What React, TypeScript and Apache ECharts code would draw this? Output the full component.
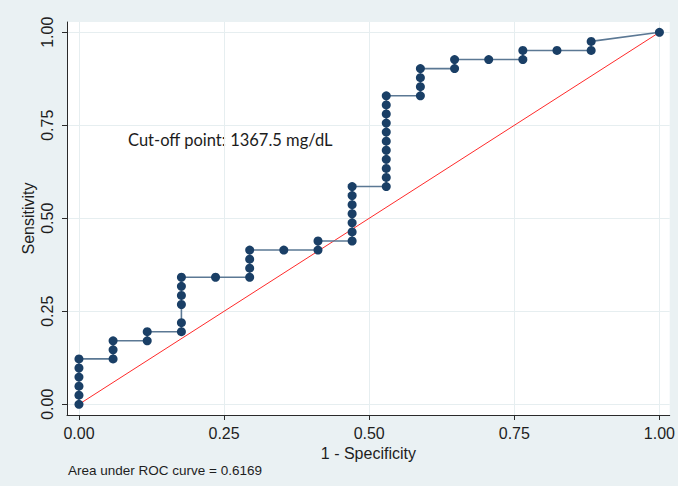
import React, { useEffect, useRef } from "react";
import * as echarts from "echarts";

// 1 - Specificity (x) and Sensitivity (y) of each ROC point, in drawing order
const fpr = [
  0, 0, 0, 0, 0, 0,
  0.0588, 0.0588, 0.0588,
  0.1176, 0.1176,
  0.1765, 0.1765, 0.1765, 0.1765, 0.1765, 0.1765,
  0.2353,
  0.2941, 0.2941, 0.2941, 0.2941,
  0.3529,
  0.4118, 0.4118,
  0.4706, 0.4706, 0.4706, 0.4706, 0.4706, 0.4706, 0.4706,
  0.5294, 0.5294, 0.5294, 0.5294, 0.5294, 0.5294, 0.5294, 0.5294, 0.5294, 0.5294, 0.5294,
  0.5882, 0.5882, 0.5882, 0.5882,
  0.6471, 0.6471,
  0.7059,
  0.7647, 0.7647,
  0.8235,
  0.8824, 0.8824,
  1.0,
];
const tpr = [
  0, 0.0244, 0.0488, 0.0732, 0.0976, 0.122,
  0.122, 0.1463, 0.1707,
  0.1707, 0.1951,
  0.1951, 0.2195, 0.2683, 0.2927, 0.3171, 0.3415,
  0.3415,
  0.3415, 0.3659, 0.3902, 0.4146,
  0.4146,
  0.4146, 0.439,
  0.439, 0.4634, 0.4878, 0.5122, 0.5366, 0.561, 0.5854,
  0.5854, 0.6098, 0.6341, 0.6585, 0.6829, 0.7073, 0.7317, 0.7561, 0.7805, 0.8049, 0.8293,
  0.8293, 0.8537, 0.878, 0.9024,
  0.9024, 0.9268,
  0.9268,
  0.9268, 0.9512,
  0.9512,
  0.9512, 0.9756,
  1.0,
];
const refX = [0, 1];
const refY = [0, 1];
const xTicks = [0, 0.25, 0.5, 0.75, 1];
const yTicks = [0, 0.25, 0.5, 0.75, 1];
const xAxisName = "1 - Specificity";
const yAxisName = "Sensitivity";
const aucNote = "Area under ROC curve = 0.6169";
const cutoffNote = "Cut-off point: 1367.5 mg/dL";

export default function App() {
  const ref = useRef<HTMLDivElement>(null);
  useEffect(() => {
    if (!ref.current) return;
    const chart = echarts.init(ref.current, undefined, { renderer: "svg" });
    const axisFont = "'Liberation Sans', Arial, sans-serif";
    const tickColor = "#1e1e1e";
    chart.setOption({
      animation: false,
      backgroundColor: "#eaf1f3",
      grid: {
        left: 67,
        right: 7,
        top: 22,
        bottom: 71,
        show: true,
        backgroundColor: "#ffffff",
        borderWidth: 0,
      },
      xAxis: {
        type: "value",
        min: -0.0206,
        max: 1.0177,
        name: xAxisName,
        nameLocation: "middle",
        nameGap: 29,
        nameTextStyle: { fontFamily: axisFont, fontSize: 16, color: tickColor },
        axisLine: { onZero: false, lineStyle: { color: "#2a2a2a", width: 1 } },
        axisTick: { show: true, length: 5, customValues: xTicks, lineStyle: { color: "#2a2a2a" } },
        axisLabel: {
          customValues: xTicks,
          margin: 10,
          fontFamily: axisFont,
          fontSize: 16,
          color: tickColor,
          formatter: (v: number) => v.toFixed(2),
        },
        splitLine: { show: true, lineStyle: { color: "#e6eef0", width: 1 } },
      },
      yAxis: {
        type: "value",
        min: -0.0288,
        max: 1.0277,
        name: yAxisName,
        nameLocation: "middle",
        nameGap: 31,
        nameRotate: 90,
        nameMoveOverlap: false,
        nameTextStyle: { fontFamily: axisFont, fontSize: 16, color: tickColor },
        axisLine: { show: true, onZero: false, lineStyle: { color: "#2a2a2a", width: 1 } },
        axisTick: { show: true, length: 5, customValues: yTicks, lineStyle: { color: "#2a2a2a" } },
        axisLabel: {
          customValues: yTicks,
          rotate: 90,
          margin: 12,
          fontFamily: axisFont,
          fontSize: 16,
          color: tickColor,
          formatter: (v: number) => v.toFixed(2),
        },
        splitLine: { show: true, lineStyle: { color: "#e6eef0", width: 1 } },
      },
      series: [
        {
          type: "line",
          data: refX.map((x, i) => [x, refY[i]]),
          showSymbol: false,
          symbol: "none",
          lineStyle: { color: "#ff2a2a", width: 1 },
          z: 2,
        },
        {
          type: "line",
          data: fpr.map((x, i) => [x, tpr[i]]),
          symbol: "circle",
          symbolSize: 9,
          showAllSymbol: true,
          itemStyle: { color: "#1a3f66" },
          lineStyle: { color: "#5b7894", width: 1.6 },
          z: 3,
        },
      ],
      graphic: [
        {
          type: "text",
          x: 128,
          y: 140,
          style: {
            text: cutoffNote,
            fontFamily: "Lato, 'Open Sans', sans-serif",
            fontSize: 16.5,
            fill: "#1c1c1c",
            verticalAlign: "middle",
          },
        },
        {
          type: "text",
          x: 68,
          y: 470,
          style: {
            text: aucNote,
            fontFamily: axisFont,
            fontSize: 13.5,
            fill: "#1e1e1e",
            verticalAlign: "middle",
          },
        },
      ],
    });
    return () => chart.dispose();
  }, []);
  return (
    <div
      ref={ref}
      style={{ position: "absolute", left: 0, top: 0, width: 678, height: 486 }}
    />
  );
}
